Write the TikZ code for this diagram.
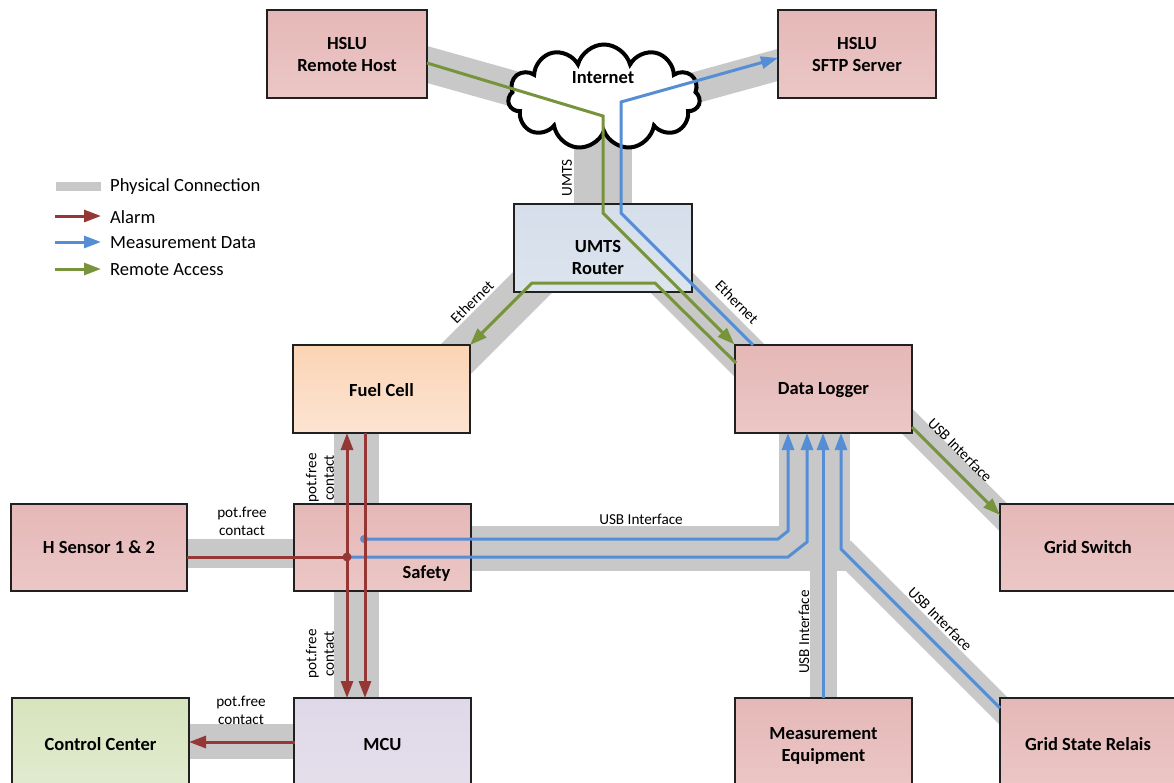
\documentclass[tikz,border=0pt]{standalone}
\usepackage{fontspec}
\setmainfont{Carlito}
\usetikzlibrary{arrows.meta,shapes.symbols}
\definecolor{bandgray}{HTML}{C8C8C8}
\definecolor{alarmred}{HTML}{953735}
\definecolor{measblue}{HTML}{558ED5}
\definecolor{remgreen}{HTML}{77933C}
\definecolor{boxline}{HTML}{202020}
\definecolor{pinktop}{HTML}{E5B8B7}
\definecolor{pinkbot}{HTML}{EBC7C6}
\definecolor{bluetop}{HTML}{D5DEEA}
\definecolor{bluebot}{HTML}{DCE4EE}
\definecolor{peachtop}{HTML}{FBD4B4}
\definecolor{peachbot}{HTML}{FCE4D3}
\definecolor{lavtop}{HTML}{DFD8E8}
\definecolor{lavbot}{HTML}{E5DFEC}
\definecolor{greentop}{HTML}{D7E4BD}
\definecolor{greenbot}{HTML}{E2EBD0}
\newcommand\boxfont{\fontsize{18.5}{22}\selectfont\bfseries}
\newcommand\lblfont{\fontsize{15.2}{17.5}\selectfont}
\newcommand\legfont{\fontsize{18.6}{21}\selectfont}
\tikzset{
  unit/.style={draw=boxline, line width=1.3pt, inner sep=0pt, align=center,
    font=\boxfont, minimum width=177pt, minimum height=88pt},
  pinkbox/.style={unit, top color=pinktop, bottom color=pinkbot},
  phys/.style={draw=bandgray, line width=#1},
  flow/.style={line width=3pt},
  tip/.style={-{Triangle[length=17pt,width=12pt]}},
  alarm/.style={flow, draw=alarmred},
  meas/.style={flow, draw=measblue},
  remote/.style={flow, draw=remgreen},
  lbl/.style={font=\lblfont, align=center, inner sep=0pt},
  boxtext/.style={font=\boxfont, align=center, inner sep=0pt},
  legtext/.style={font=\legfont, anchor=west, inner sep=0pt}
}
\begin{document}
\begin{tikzpicture}[x=1pt,y=-1pt]
\useasboundingbox (0,0) rectangle (1174,782);
% ---------- physical connections ----------
\draw[phys=35.6pt] (420,62.5) -- (605,114.3);
\draw[phys=31pt] (785,63) -- (605,112.5);
\fill[bandgray] (574,130) rectangle (632,204);
\draw[phys=42.4pt] (565,250) -- (440,375);
\draw[phys=44pt] (640,251) -- (760,371);
\fill[bandgray] (334,433) rectangle (379,504);
\fill[bandgray] (334,591) rectangle (379,698);
\fill[bandgray] (187,539) rectangle (294,568);
\fill[bandgray] (189,724) rectangle (294,759);
\fill[bandgray] (779,433) rectangle (850,571);
\fill[bandgray] (471,526) rectangle (837,571);
\fill[bandgray] (810,571) rectangle (837,698);
\draw[phys=25pt] (842,549.5) -- (1010,717.5);
\draw[phys=25pt] (895,409) -- (1010,524);
% ---------- cloud ----------
\node[cloud, draw=black, line width=4pt, fill=white, cloud puffs=11, aspect=1.85,
  minimum width=192pt, minimum height=105pt, inner sep=0pt] (inet) at (604,97) {};
\node[boxtext] (inettext) at (603,78) {Internet};
% ---------- boxes ----------
\node[pinkbox, minimum width=160pt] (rh) at (347,54) {HSLU\\Remote Host};
\node[pinkbox, minimum width=158pt] (sftp) at (857,54) {HSLU\\SFTP Server};
\node[unit, top color=bluetop, bottom color=bluebot, minimum width=178pt] (router) at (603,248) {};
\node[boxtext] (routertext) at (598,257) {UMTS\\Router};
\node[unit, top color=peachtop, bottom color=peachbot] (fc) at (381.5,389) {};
\node[boxtext] (fctext) at (381.5,390) {Fuel Cell};
\node[pinkbox] (dl) at (823.5,389) {};
\node[boxtext] (dltext) at (823.5,390) {Data Logger};
\node[pinkbox, minimum height=87pt] (safety) at (382.5,547.5) {};
\node[boxtext] (safetytext) at (426.5,574) {Safety};
\node[pinkbox, minimum width=176pt, minimum height=87pt] (hs) at (99,547.5) {H Sensor 1 \& 2};
\node[pinkbox, minimum width=176pt, minimum height=87pt] (gs) at (1088,547.5) {Grid Switch};
\node[unit, top color=lavtop, bottom color=lavbot, minimum height=92pt] (mcu) at (382.5,744) {MCU};
\node[unit, top color=greentop, bottom color=greenbot, minimum height=92pt] (cc) at (100.5,744) {Control Center};
\node[pinkbox, minimum height=92pt] (me) at (823.5,744) {};
\node[boxtext] (metext) at (823.5,746) {Measurement\\Equipment};
\node[pinkbox, minimum width=176pt, minimum height=92pt] (gsr) at (1088,744) {Grid State Relais};
% ---------- connection labels ----------
\node[lbl, rotate=90] (lumts) at (567,178) {UMTS};
\node[lbl, rotate=45] (leth1) at (472,302) {Ethernet};
\node[lbl, rotate=-45] (leth2) at (737,302) {Ethernet};
\node[lbl, rotate=90] (lpf1) at (320,478) {pot.free\\contact};
\node[lbl, rotate=90] (lpf2) at (320,654) {pot.free\\contact};
\node[lbl] (lpf3) at (242,521.5) {pot.free\\contact};
\node[lbl] (lpf4) at (241,710.5) {pot.free\\contact};
\node[lbl] (lusb1) at (641,519) {USB Interface};
\node[lbl, rotate=90] (lusb2) at (804,632) {USB Interface};
\node[lbl, rotate=-45] (lusb3) at (960,450) {USB Interface};
\node[lbl, rotate=-45] (lusb4) at (940,619) {USB Interface};
% ---------- remote access ----------
\coordinate (g1a) at (427,63);
\coordinate (g1b) at (603,116);
\coordinate (g1c) at (603,213);
\draw[remote, tip] (g1a) -- (g1b) -- (g1c) -- (dl.north west);
\coordinate (g2a) at (736,363);
\coordinate (g2b) at (655,283);
\coordinate (g2c) at (532,283);
\coordinate (g2d) at (470,345);
\draw[remote, tip] (g2a) -- (g2b) -- (g2c) -- (g2d);
\coordinate (g3a) at (912,427);
\coordinate (g3b) at (1000,515);
\draw[remote, tip] (g3a) -- (g3b);
% ---------- measurement data ----------
\coordinate (b5a) at (753,345);
\coordinate (b5b) at (621,213);
\coordinate (b5c) at (621,102);
\coordinate (b5d) at (778,58);
\draw[meas, tip] (b5a) -- (b5b) -- (b5c) -- (b5d);
\coordinate (b1a) at (364,539);
\coordinate (b1b) at (778,539);
\coordinate (b1c) at (788,531);
\coordinate (b1d) at (788,433);
\draw[meas, tip] (b1a) -- (b1b) -- (b1c) -- (b1d);
\coordinate (b2a) at (351,557);
\coordinate (b2b) at (788,557);
\coordinate (b2c) at (807,542);
\coordinate (b2d) at (807,433);
\draw[meas, tip] (b2a) -- (b2b) -- (b2c) -- (b2d);
\coordinate (b3a) at (823,698);
\coordinate (b3b) at (823,433);
\draw[meas, tip] (b3a) -- (b3b);
\coordinate (b4a) at (1000,708);
\coordinate (b4b) at (841,549);
\coordinate (b4c) at (841,433);
\draw[meas, tip] (b4a) -- (b4b) -- (b4c);
\fill[measblue] (b1a) circle (4pt);
% ---------- alarm ----------
\coordinate (junc) at (347,557);
\coordinate (r1a) at (187,557);
\draw[alarm] (r1a) -- (junc);
\coordinate (r2a) at (347,433);
\coordinate (r2b) at (347,698);
\draw[alarm, tip] (junc) -- (r2a);
\draw[alarm, tip] (junc) -- (r2b);
\coordinate (r3a) at (365,433);
\coordinate (r3b) at (365,698);
\draw[alarm, tip] (r3a) -- (r3b);
\coordinate (r4a) at (295,742);
\coordinate (r4b) at (189,742);
\draw[alarm, tip] (r4a) -- (r4b);
\fill[alarmred] (junc) circle (4.5pt);
% ---------- legend ----------
\fill[bandgray] (56,182) rectangle (101,191);
\node[legtext] (lg1) at (110,186.5) {Physical Connection};
\coordinate (la1) at (55,216); \coordinate (la2) at (101,216);
\draw[alarm, tip] (la1) -- (la2);
\node[legtext] (lg2) at (110,217) {Alarm};
\coordinate (lb1) at (55,242); \coordinate (lb2) at (101,242);
\draw[meas, tip] (lb1) -- (lb2);
\node[legtext] (lg3) at (110,243) {Measurement Data};
\coordinate (lc1) at (55,269); \coordinate (lc2) at (101,269);
\draw[remote, tip] (lc1) -- (lc2);
\node[legtext] (lg4) at (110,270) {Remote Access};
\end{tikzpicture}
\end{document}
